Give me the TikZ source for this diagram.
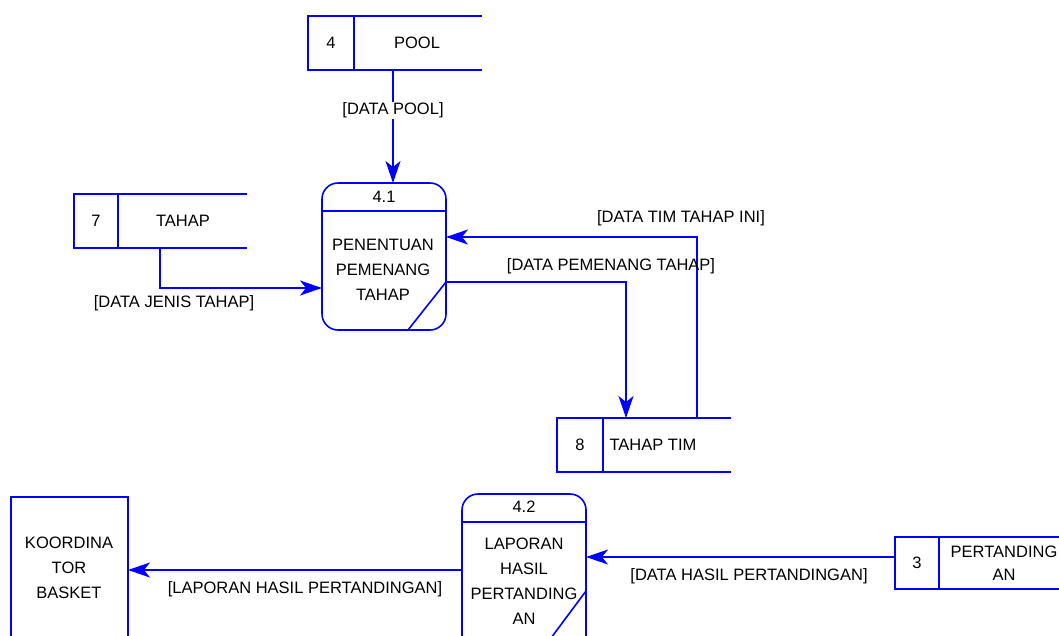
\documentclass[tikz,border=0pt]{standalone}
\usepackage{fontspec}
\setmainfont{Liberation Sans}
\usetikzlibrary{arrows.meta}
\definecolor{dfdblue}{RGB}{0,0,255}
\begin{document}
\begin{tikzpicture}[x=1pt,y=-1pt,
  line/.style={draw=dfdblue,line width=1.6pt},
  flow/.style={line,-{Stealth[length=22pt,width=15pt,inset=6pt]}},
  txt/.style={font=\fontsize{16.5}{25}\selectfont,inner sep=1pt,align=center},
  lbl/.style={txt,fill=white,inner sep=1pt}]
\useasboundingbox (0,0) rectangle (1059,635);
\begin{scope}
\clip (0,0) rectangle (1059,635);
% ---------- Store 4 POOL
\draw[line] (482,16) -- (308,16) -- (308,70) -- (482,70);
\draw[line] (354,16) -- (354,70);
\node[txt] (s4n) at (331,43) {4};
\node[txt] (s4) at (417,43) {POOL};
\coordinate (s4b) at (393,70);
% ---------- Store 7 TAHAP
\draw[line] (247,194) -- (74,194) -- (74,248) -- (247,248);
\draw[line] (118,194) -- (118,248);
\node[txt] (s7n) at (96,221) {7};
\node[txt] (s7) at (183,221) {TAHAP};
\coordinate (s7b) at (160,248);
% ---------- Store 8 TAHAP TIM
\draw[line] (731,418) -- (557,418) -- (557,472) -- (731,472);
\draw[line] (603,418) -- (603,472);
\node[txt] (s8n) at (580,445) {8};
\node[txt] (s8) at (653,445) {TAHAP TIM};
\coordinate (s8a) at (626,418);
\coordinate (s8b) at (697,418);
% ---------- Store 3 PERTANDINGAN
\draw[line] (1065,537) -- (895,537) -- (895,589) -- (1065,589);
\draw[line] (939,537) -- (939,589);
\node[txt] (s3n) at (917,563) {3};
\node[txt,font=\fontsize{16.5}{23}\selectfont] (s3) at (1004,563) {PERTANDING\\AN};
\coordinate (s3l) at (895,557);
% ---------- Process 4.1
\draw[line,rounded corners=16pt] (322,183) rectangle (446,330);
\draw[line] (322,211) -- (446,211);
\draw[line] (408,330) -- (446,282);
\node[txt] (p41n) at (384,197) {4.1};
\node[txt] (p41) at (383,270) {PENENTUAN\\PEMENANG\\TAHAP};
\coordinate (p41t) at (393,183);
\coordinate (p41l) at (322,288);
\coordinate (p41r1) at (446,237);
\coordinate (p41r2) at (446,282);
% ---------- Process 4.2
\draw[line,rounded corners=16pt] (462,494) rectangle (586,700);
\draw[line] (462,522) -- (586,522);
\draw[line] (551,638) -- (586,591);
\node[txt] (p42n) at (524,507) {4.2};
\node[txt] (p42) at (524,581) {LAPORAN\\HASIL\\PERTANDING\\AN};
\coordinate (p42l) at (462,570);
\coordinate (p42r) at (586,557);
% ---------- External entity
\draw[line] (11,700) -- (11,497) -- (128,497) -- (128,700);
\node[txt] (ext) at (69,568) {KOORDINA\\TOR\\BASKET};
\coordinate (extr) at (128,570);
\end{scope}
% ---------- Flows
\draw[flow] (s4b) -- (p41t) node[lbl,pos=0.36] (f1) {[DATA POOL]};
\draw[flow] (s7b) |- (p41l);
\node[txt] (f2) at (174,303) {[DATA JENIS TAHAP]};
\draw[flow] (s8b) |- (p41r1);
\node[txt] (f3) at (681,218) {[DATA TIM TAHAP INI]};
\draw[flow] (p41r2) -| (s8a);
\node[txt] (f4) at (611,266) {[DATA PEMENANG TAHAP]};
\draw[flow] (p42l) -- (extr);
\node[txt] (f5) at (305,589) {[LAPORAN HASIL PERTANDINGAN]};
\draw[flow] (s3l) -- (p42r);
\node[txt] (f6) at (749,576) {[DATA HASIL PERTANDINGAN]};
\end{tikzpicture}
\end{document}
